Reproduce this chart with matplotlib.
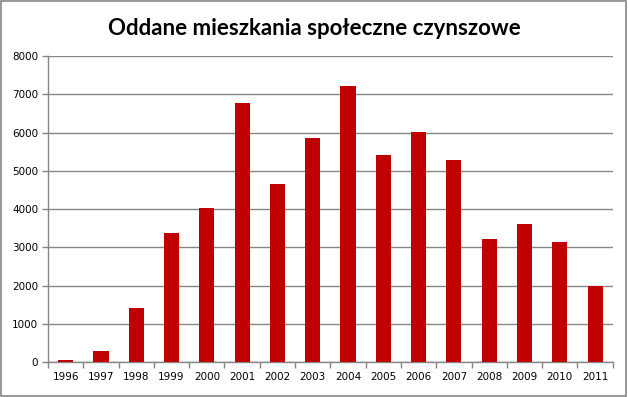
import matplotlib
matplotlib.use('Agg')
import matplotlib.pyplot as plt
import numpy as np

# data
years  = ['1996', '1997', '1998', '1999', '2000', '2001', '2002', '2003',
          '2004', '2005', '2006', '2007', '2008', '2009', '2010', '2011']
values = [60, 296, 1420, 3378, 4030, 6771, 4656, 5857,
          7215, 5413, 6014, 5283, 3220, 3612, 3142, 1993]
y_ticks = [0, 1000, 2000, 3000, 4000, 5000, 6000, 7000, 8000]

GRID = '#868686'
BAR  = '#C00000'

fig = plt.figure(figsize=(6.28, 3.97), dpi=100)
ax = fig.add_axes([0.0764, 0.0874, 0.8993, 0.7716])

x = np.arange(len(years))
ax.bar(x, values, width=0.43, color=BAR, zorder=3)

ax.set_xlim(-0.5, len(years) - 0.5)
ax.set_ylim(0, 8000)
ax.set_yticks(y_ticks)
ax.set_yticklabels([str(v) for v in y_ticks])
ax.set_xticks(x)
ax.set_xticklabels(years)
ax.set_xticks(np.arange(-0.5, len(years)), minor=True)

ax.yaxis.grid(True, color=GRID, linewidth=1.0, zorder=0)
ax.tick_params(axis='x', which='major', length=0, pad=7, labelsize=7.5)
ax.tick_params(axis='x', which='minor', length=4, color=GRID, width=1)
ax.tick_params(axis='y', length=4, color=GRID, width=1, labelsize=7.5, pad=3)

for s in ['top', 'right']:
    ax.spines[s].set_visible(False)
for s in ['left', 'bottom']:
    ax.spines[s].set_color(GRID)
    ax.spines[s].set_linewidth(1.0)

fig.text(0.5, 0.928, 'Oddane mieszkania społeczne czynszowe', ha='center', va='center',
         fontsize=16, fontweight='bold', family=['Lato', 'DejaVu Sans'])

# outer chart border
fig.patches.append(plt.Rectangle((0.002, 0.003), 0.995, 0.994, transform=fig.transFigure,
                                 fill=False, edgecolor=GRID, linewidth=1.2))

plt.savefig('out.png', dpi=100)
plt.close()
